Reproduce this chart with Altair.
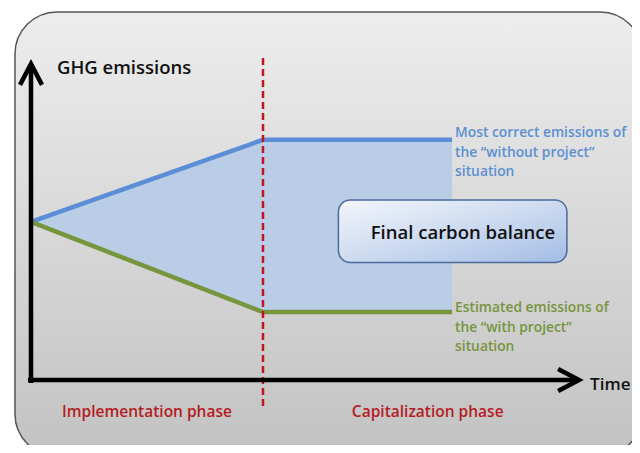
import altair as alt
import pandas as pd

# ---- chart values -------------------------------------------------------
time_pts = [0, 10, 18.15]            # start, end of implementation, end of horizon
without_project = [100, 152, 152]    # "without project" emissions
with_project = [100, 43, 43]         # "with project" emissions
phase_end = 10

without_label = ["Most correct emissions of", "the \u201cwithout project\u201d", "situation"]
with_label = ["Estimated emissions of", "the \u201cwith project\u201d", "situation"]
phase_labels = ["Implementation phase", "Capitalization phase"]
phase_centers = [5.0, 17.1]
y_title = "GHG emissions"
x_title = "Time"
box_label = "Final carbon balance"

FONT = "Open Sans"
XDOM = [-0.991, 25.905]
YDOM = [-41.14, 235.4]
xs = alt.Scale(domain=XDOM, nice=False, zero=False)
ys = alt.Scale(domain=YDOM, nice=False, zero=False)


def X(f="t"):
    return alt.X(f"{f}:Q", scale=xs, axis=None)


def Y(f="e"):
    return alt.Y(f"{f}:Q", scale=ys, axis=None)


# ---- background panel ----------------------------------------------------
panel_df = pd.DataFrame({"t": [-0.69], "t2": [26.34], "e": [232.9], "e2": [-48.1]})
panel = alt.Chart(panel_df).mark_rect(
    cornerRadius=42,
    fill=alt.LinearGradient(
        gradient="linear",
        stops=[alt.GradientStop(color="#ededed", offset=0),
               alt.GradientStop(color="#c2c2c2", offset=1)],
        x1=0, x2=0, y1=0, y2=1,
    ),
    stroke="#555555",
    strokeWidth=1.5,
    clip=True,
).encode(x=X(), x2="t2:Q", y=Y(), y2="e2:Q")

# ---- filled gap between the two scenarios ---------------------------------
gap_df = pd.DataFrame({"t": time_pts, "hi": without_project, "lo": with_project})
gap = alt.Chart(gap_df).mark_area(color="#b9cde7", opacity=1).encode(
    x=X(), y=Y("hi"), y2="lo:Q"
)

# ---- scenario lines -------------------------------------------------------
lines_df = pd.DataFrame({
    "t": time_pts * 2,
    "e": without_project + with_project,
    "s": ["without"] * 3 + ["with"] * 3,
})
lines = alt.Chart(lines_df).mark_line(strokeWidth=4.5).encode(
    x=X(), y=Y(),
    color=alt.Color("s:N", scale=alt.Scale(domain=["without", "with"],
                                           range=["#5b8ed6", "#76953d"]), legend=None),
    detail="s:N",
)

# ---- phase separator --------------------------------------------------------
sep_df = pd.DataFrame({"t": [phase_end], "e": [203.8], "e2": [-17.7]})
sep = alt.Chart(sep_df).mark_rule(color="#c0161e", strokeWidth=2.5, strokeDash=[7, 4]).encode(
    x=X(), y=Y(), y2="e2:Q"
)

# ---- axes arrows ------------------------------------------------------------
xaxis_df = pd.DataFrame({"t": [-0.13], "t2": [23.62], "e": [0]})
xaxis = alt.Chart(xaxis_df).mark_rule(color="black", strokeWidth=4.5).encode(
    x=X(), x2="t2:Q", y=Y()
)
yaxis_df = pd.DataFrame({"t": [0], "e": [-1.9], "e2": [200]})
yaxis = alt.Chart(yaxis_df).mark_rule(color="black", strokeWidth=4.5).encode(
    x=X(), y=Y(), y2="e2:Q"
)
heads_df = pd.DataFrame({"t": [0, 23.62], "e": [200, 0], "a": [0, 90]})
heads = alt.Chart(heads_df).mark_point(
    shape="M-1,1.9L0,0L1,1.9", size=484, filled=False, stroke="black",
    strokeWidth=4.5, strokeJoin="miter", opacity=1,
).encode(x=X(), y=Y(), angle=alt.Angle("a:Q", scale=None))

# ---- "Final carbon balance" box -------------------------------------------
box_df = pd.DataFrame({"t": [13.25], "t2": [23.1], "e": [113.9], "e2": [74.3]})
box = alt.Chart(box_df).mark_rect(
    cornerRadius=12,
    fill=alt.LinearGradient(
        gradient="linear",
        stops=[alt.GradientStop(color="#f3f6fb", offset=0),
               alt.GradientStop(color="#cddbf0", offset=0.5),
               alt.GradientStop(color="#a3bce5", offset=1)],
        x1=0, x2=1, y1=0, y2=1,
    ),
    stroke="#4b6a9b",
    strokeWidth=1.5,
).encode(x=X(), x2="t2:Q", y=Y(), y2="e2:Q")
box_text = alt.Chart(pd.DataFrame({"t": [18.62], "e": [93.2], "l": [box_label]})).mark_text(
    font=FONT, fontSize=18.5, fontWeight=600, color="#111111", align="center", baseline="middle"
).encode(x=X(), y=Y(), text="l:N")

# ---- texts ------------------------------------------------------------------
wo_df = pd.DataFrame({"t": [18.28] * 3, "e": [156.3, 143.7, 131.6], "l": without_label})
wo_text = alt.Chart(wo_df).mark_text(
    font=FONT, fontSize=13.8, fontWeight=600, color="#5b8fd2", align="left", baseline="middle"
).encode(x=X(), y=Y(), text="l:N")

wi_df = pd.DataFrame({"t": [18.28] * 3, "e": [45.6, 32.9, 20.9], "l": with_label})
wi_text = alt.Chart(wi_df).mark_text(
    font=FONT, fontSize=13.8, fontWeight=600, color="#76953d", align="left", baseline="middle"
).encode(x=X(), y=Y(), text="l:N")

ph_df = pd.DataFrame({"t": phase_centers, "e": [-20.3, -20.3], "l": phase_labels})
ph_text = alt.Chart(ph_df).mark_text(
    font=FONT, fontSize=15.5, fontWeight=600, color="#b51c24", align="center", baseline="middle"
).encode(x=X(), y=Y(), text="l:N")

ytitle = alt.Chart(pd.DataFrame({"t": [1.12], "e": [197.5], "l": [y_title]})).mark_text(
    font=FONT, fontSize=18.5, fontWeight=600, color="#111111", align="left", baseline="middle"
).encode(x=X(), y=Y(), text="l:N")

xtitle = alt.Chart(pd.DataFrame({"t": [24.1], "e": [-3.2], "l": [x_title]})).mark_text(
    font=FONT, fontSize=17, fontWeight=600, color="#111111", align="left", baseline="middle"
).encode(x=X(), y=Y(), text="l:N")

chart = alt.layer(
    panel, gap, lines, sep, xaxis, yaxis, heads, box, box_text,
    wo_text, wi_text, ph_text, ytitle, xtitle,
).properties(
    width=624, height=437, padding=0, autosize="none", background="white"
).configure_view(stroke=None)

chart.save("out.html", embed_options={"renderer": "svg", "actions": False})
